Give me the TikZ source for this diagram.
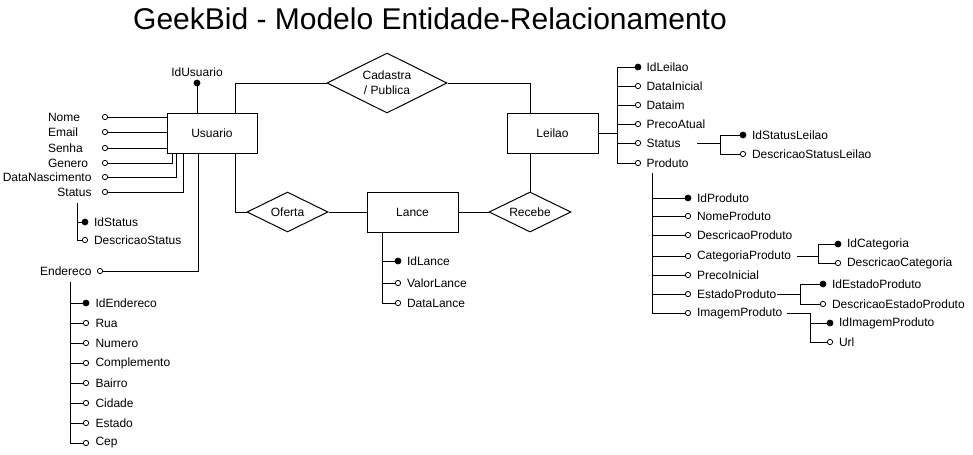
\documentclass[tikz,border=0pt]{standalone}
\usepackage{fontspec}
\setmainfont{Liberation Sans}
\usetikzlibrary{shapes.geometric}
\begin{document}
\begin{tikzpicture}[x=0.75pt,y=-0.75pt, line width=0.75pt,
  lbl/.style={font=\fontsize{9}{11}\selectfont, inner sep=0pt},
  ent/.style={draw, fill=white, minimum height=30pt, inner sep=0pt, font=\fontsize{9}{11}\selectfont},
  rel/.style={draw, fill=white, diamond, aspect=2, inner sep=0pt, font=\fontsize{9}{11}\selectfont, align=center},
  pk/.style={circle, fill=black, draw, line width=0.5pt, inner sep=0pt, minimum size=4.5pt},
  ak/.style={circle, draw, fill=white, line width=0.6pt, inner sep=0pt, minimum size=4pt}]

\useasboundingbox (0,0) rectangle (973,454);

% title
\node[font=\fontsize{22.5}{27}\selectfont, inner sep=0pt] (title) at (430,19) {GeekBid - Modelo Entidade-Relacionamento};

% entities
\node[ent, minimum width=67.5pt] (u) at (212,133) {Usuario};
\node[ent, minimum width=68.25pt] (le) at (552.5,133) {Leilao};
\node[ent, minimum width=68.25pt] (la) at (412.5,212) {Lance};

% relationships
\node[rel, minimum width=90pt, minimum height=45pt] (cad) at (387,83) {Cadastra\\/ Publica};
\node[rel, minimum width=60.75pt, minimum height=30pt] (of) at (287.5,212) {Oferta};
\node[rel, minimum width=61.5pt, minimum height=30pt] (rc) at (530,212) {Recebe};

% relationship connectors
\coordinate (uTop) at (235,113);
\coordinate (uBot) at (235,153);
\coordinate (leTop) at (530,113);
\draw (cad.west) -| (uTop);
\draw (cad.east) -| (leTop);
\draw (uBot) |- (of.west);
\draw (of.east) -- (la.west);
\draw (la.east) -- (rc.west);
\draw (rc.north) -- (rc.north |- le.south);

% ---------- Usuario attributes ----------
\node[pk] (idu) at (197,83) {};
\node[lbl] (idu-t) at (197,72) {IdUsuario};
\draw (idu) -- (idu |- u.north);

\foreach \n/\y/\t in {nome/117/Nome, email/132/Email, senha/148/Senha, gen/163/Genero}{
  \node[ak] (\n) at (105,\y) {};
  \node[lbl, anchor=west] (\n-t) at (47.5,\y) {\t};
}
\node[ak] (dn) at (105,177) {};
\node[lbl, anchor=east] (dn-t) at (92,177) {DataNascimento};
\node[ak] (st) at (105,192) {};
\node[lbl, anchor=east] (st-t) at (92,192) {Status};

\draw (nome.east) -- (nome.east -| u.west);
\draw (email.east) -- (email.east -| u.west);
\draw (senha.east) -- (senha.east -| u.west);
\coordinate (g1) at (172,153);
\coordinate (g2) at (176,153);
\coordinate (g3) at (183,153);
\draw (gen.east) -| (g1);
\draw (dn.east) -| (g2);
\draw (st.east) -| (g3);

% Status subtree
\coordinate (stT) at (77,203);
\node[pk] (idst) at (85,222) {};
\node[lbl, anchor=west] (idst-t) at (93.5,222) {IdStatus};
\node[ak] (dst) at (85,240) {};
\node[lbl, anchor=west] (dst-t) at (93.5,240) {DescricaoStatus};
\draw (stT) |- (dst.west);
\draw (idst.west) -- (idst.west -| stT);

% Endereco
\coordinate (uB) at (198,153);
\node[ak] (end) at (100,271) {};
\node[lbl, anchor=east] (end-t) at (92,271) {Endereco};
\draw (end.east) -| (uB);

\coordinate (enT) at (70,282);
\node[pk] (iden) at (86,303) {};
\node[lbl, anchor=west] (iden-t) at (95,303) {IdEndereco};
\foreach \n/\y/\t in {rua/323/Rua, num/343/Numero, comp/363/Complemento, bai/383/Bairro, cid/403/Cidade, est/423/Estado, cep/443/Cep}{
  \node[ak] (\n) at (86,\y) {};
  \node[lbl, anchor=west] (\n-t) at (95,\y) {\t};
}
\draw (enT) |- (cep.west);
\foreach \n in {iden, rua, num, comp, bai, cid, est}{
  \draw (\n.west) -- (\n.west -| enT);
}

% ---------- Lance attributes ----------
\coordinate (laT) at (382,232);
\node[pk] (idl) at (398,261) {};
\node[lbl, anchor=west] (idl-t) at (406.5,261) {IdLance};
\node[ak] (vl) at (398,283) {};
\node[lbl, anchor=west] (vl-t) at (406.5,283) {ValorLance};
\node[ak] (dl) at (398,303) {};
\node[lbl, anchor=west] (dl-t) at (406.5,303) {DataLance};
\draw (laT) |- (dl.west);
\draw (idl.west) -- (idl.west -| laT);
\draw (vl.west) -- (vl.west -| laT);

% ---------- Leilao attributes ----------
\coordinate (leJ) at (617,133);
\node[pk] (idle) at (638,67) {};
\node[lbl, anchor=west] (idle-t) at (646,67) {IdLeilao};
\foreach \n/\y/\t in {dini/86/DataInicial, dfim/105/Dataim, preco/124/PrecoAtual, lst/143/Status, prod/163/Produto}{
  \node[ak] (\n) at (638,\y) {};
  \node[lbl, anchor=west] (\n-t) at (646,\y) {\t};
}
\draw (le.east) -- (leJ);
\draw (idle.west) -| (leJ) |- (prod.west);
\foreach \n in {dini, dfim, preco, lst}{
  \draw (\n.west) -- (\n.west -| leJ);
}

% Status Leilao
\coordinate (sS) at (697,143);
\coordinate (sJ) at (720,143);
\node[pk] (idsl) at (743,135) {};
\node[lbl, anchor=west] (idsl-t) at (751.5,135) {IdStatusLeilao};
\node[ak] (dsl) at (743,154) {};
\node[lbl, anchor=west] (dsl-t) at (751.5,154) {DescricaoStatusLeilao};
\draw (sS) -- (sJ);
\draw (idsl.west) -| (sJ) |- (dsl.west);

% Produto
\coordinate (pT) at (652,173);
\node[pk] (idp) at (688,198) {};
\node[lbl, anchor=west] (idp-t) at (696.5,198) {IdProduto};
\foreach \n/\y/\t in {np/216/NomeProduto, dp/235/DescricaoProduto, cp/256/CategoriaProduto, pi/275/PrecoInicial, ep/294/EstadoProduto, ip/313/ImagemProduto}{
  \node[ak] (\n) at (688,\y) {};
  \node[lbl, anchor=west] (\n-t) at (696.5,\y) {\t};
}
\draw (pT) |- (ip.west);
\foreach \n in {idp, np, dp, cp, pi, ep}{
  \draw (\n.west) -- (\n.west -| pT);
}

% Categoria
\coordinate (cS) at (797,256);
\coordinate (cJ) at (818,256);
\node[pk] (idc) at (838,244) {};
\node[lbl, anchor=west] (idc-t) at (846.5,244) {IdCategoria};
\node[ak] (dc) at (838,263) {};
\node[lbl, anchor=west] (dc-t) at (846.5,263) {DescricaoCategoria};
\draw (cS) -- (cJ);
\draw (idc.west) -| (cJ) |- (dc.west);

% Estado Produto
\coordinate (eS) at (777,294);
\coordinate (eJ) at (800,294);
\node[pk] (ide) at (823,284) {};
\node[lbl, anchor=west] (ide-t) at (831.5,284) {IdEstadoProduto};
\node[ak] (de) at (823,304) {};
\node[lbl, anchor=west] (de-t) at (831.5,304) {DescricaoEstadoProduto};
\draw (eS) -- (eJ);
\draw (ide.west) -| (eJ) |- (de.west);

% Imagem Produto
\coordinate (iS) at (787,313);
\coordinate (iJ) at (810,313);
\node[pk] (idi) at (830,323) {};
\node[lbl, anchor=west] (idi-t) at (838.5,323) {IdImagemProduto};
\node[ak] (url) at (830,342) {};
\node[lbl, anchor=west] (url-t) at (838.5,342) {Url};
\draw (iS) -- (iJ) |- (url.west);
\draw (idi.west) -- (idi.west -| iJ);
\end{tikzpicture}
\end{document}
